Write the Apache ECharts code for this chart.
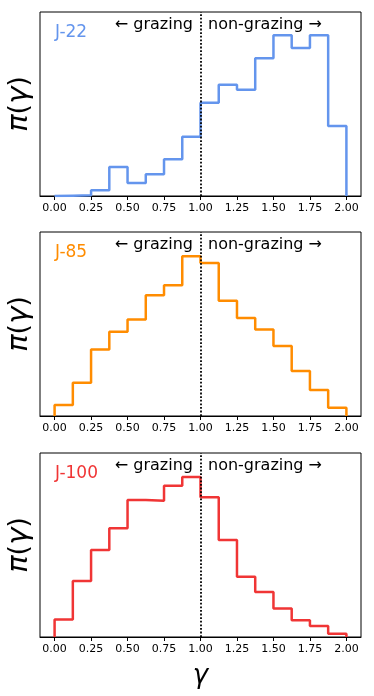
<!DOCTYPE html>
<html>
<head>
<meta charset="utf-8">
<script src="https://cdn.jsdelivr.net/npm/echarts@6/dist/echarts.min.js"></script>
<style>
  html, body { margin: 0; padding: 0; background: #fff; }
  #chart { width: 374px; height: 696px; }
</style>
</head>
<body>
<div id="chart"></div>
<script>
// bin edges of the histograms (gamma)
var binEdges = [0, 0.125, 0.25, 0.375, 0.5, 0.625, 0.75, 0.875, 1.0,
                1.125, 1.25, 1.375, 1.5, 1.625, 1.75, 1.875, 2.0];
var tickValues = [0, 0.25, 0.5, 0.75, 1.0, 1.25, 1.5, 1.75, 2.0];

// heights (fraction of the panel height)
var j22 = [0.002, 0.004, 0.031, 0.158, 0.071, 0.118, 0.200, 0.322,
           0.507, 0.605, 0.578, 0.749, 0.873, 0.805, 0.873, 0.380];
var j85 = [0.060, 0.181, 0.362, 0.458, 0.524, 0.656, 0.711, 0.868,
           0.832, 0.627, 0.533, 0.470, 0.380, 0.244, 0.141, 0.045];
var j100 = [0.095, 0.304, 0.473, 0.591, 0.745, 0.740, 0.822, 0.869,
            0.760, 0.527, 0.327, 0.245, 0.155, 0.091, 0.060, 0.018];

var names = ['J-22', 'J-85', 'J-100'];
var colors = ['#6495ED', '#FF8C00', '#F03535'];
var allData = [j22, j85, j100];

var tops = [12, 232, 453];
var font = 'DejaVu Sans';

function stepData(vals) {
    var pts = [[binEdges[0], 0]];
    vals.forEach(function (v, i) {
        pts.push([binEdges[i], v]);
    });
    pts.push([binEdges[binEdges.length - 1], 0]);
    return pts;
}

var grids = [], xAxes = [], yAxes = [], series = [], graphics = [];

tops.forEach(function (top, i) {
    grids.push({
        left: 40, width: 321, top: top, height: 184,
        outerBoundsMode: 'none', containLabel: false,
        show: true, borderColor: '#000', borderWidth: 1
    });
    xAxes.push({
        gridIndex: i, type: 'value', min: -0.1, max: 2.1,
        splitLine: { show: false },
        axisLine: { onZero: false, lineStyle: { color: '#000', width: 1 } },
        axisTick: { inside: false, length: 4, lineStyle: { color: '#000' }, customValues: tickValues },
        axisLabel: {
            customValues: tickValues, color: '#000', fontSize: 11, fontFamily: font, margin: 7,
            formatter: function (v) { return v.toFixed(2); }
        },
        name: i === 2 ? '{i|γ}' : '',
        nameLocation: 'middle', nameGap: 26,
        nameTextStyle: { rich: { i: { fontSize: 26, fontStyle: 'italic', fontFamily: font, color: '#000' } } }
    });
    yAxes.push({
        gridIndex: i, type: 'value', min: 0, max: 1,
        splitLine: { show: false },
        axisLine: { show: false },
        axisTick: { show: false },
        axisLabel: { show: false },
        name: '{i|π}{n|(}{i|γ}{n|)}',
        nameLocation: 'middle', nameGap: 6, nameRotate: 90,
        nameTextStyle: {
            rich: {
                i: { fontSize: 29, fontStyle: 'italic', fontFamily: font, color: '#000' },
                n: { fontSize: 27, fontFamily: font, color: '#000' }
            }
        }
    });
    series.push({
        type: 'line', xAxisIndex: i, yAxisIndex: i,
        step: 'end', symbol: 'none',
        data: stepData(allData[i]),
        lineStyle: { color: colors[i], width: 2.5 },
        markLine: {
            silent: true, symbol: 'none', label: { show: false },
            lineStyle: { color: '#000', type: 'dotted', width: 1.8 },
            data: [{ xAxis: 1.0 }]
        }
    });
    graphics.push({
        type: 'text', left: 55, top: top + 12,
        style: { text: names[i], fill: colors[i], fontSize: 17, fontFamily: font }
    });
    graphics.push({
        type: 'text', x: 193, y: top + 13,
        style: { text: '← grazing', fill: '#000', fontSize: 16, fontFamily: font, align: 'right', verticalAlign: 'middle' }
    });
    graphics.push({
        type: 'text', x: 208, y: top + 13,
        style: { text: 'non-grazing →', fill: '#000', fontSize: 16, fontFamily: font, align: 'left', verticalAlign: 'middle' }
    });
});

var myChart = echarts.init(document.getElementById('chart'));
myChart.setOption({
    animation: false,
    backgroundColor: '#fff',
    grid: grids,
    xAxis: xAxes,
    yAxis: yAxes,
    series: series,
    graphic: graphics
});
</script>
</body>
</html>
